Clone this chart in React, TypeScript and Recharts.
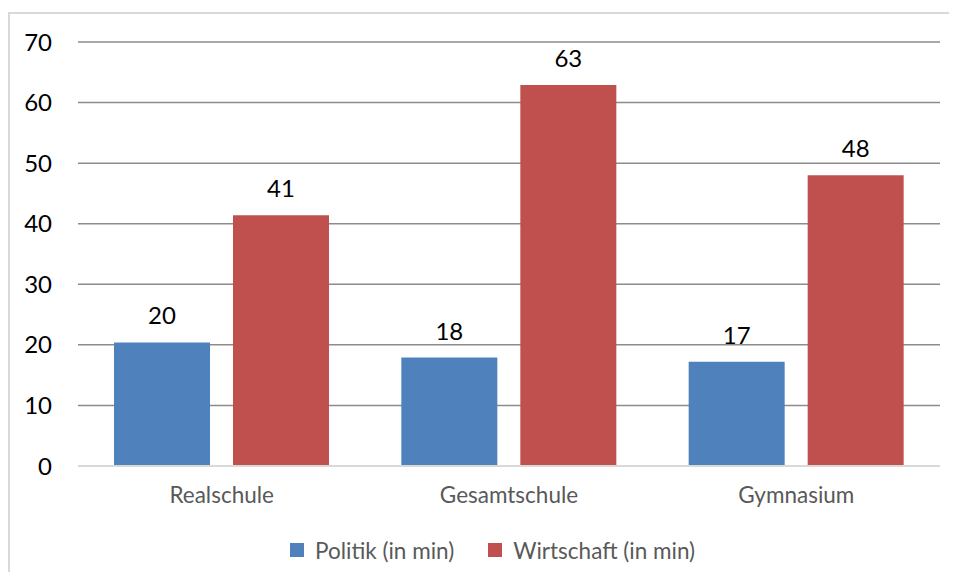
import { Bar, BarChart, CartesianGrid, LabelList, Legend, XAxis, YAxis } from "recharts"

const schools = ["Realschule", "Gesamtschule", "Gymnasium"]
const politik = [20.4, 17.9, 17.2]
const wirtschaft = [41.4, 62.9, 48.0]
const yTicks = [0, 10, 20, 30, 40, 50, 60, 70]

const seriesNames = ["Politik (in min)", "Wirtschaft (in min)"]
const seriesColors = ["#4F81BD", "#C0504D"]

const data = schools.map((name, i) => ({
  name,
  politik: politik[i],
  wirtschaft: wirtschaft[i],
}))

function LegendBox() {
  return (
    <div style={{ height: 30, display: "flex", alignItems: "center", paddingLeft: 280 }}>
      {seriesNames.map((label, i) => (
        <div key={label} style={{ display: "flex", alignItems: "center", marginRight: 34 }}>
          <span style={{ width: 14, height: 14, background: seriesColors[i], display: "inline-block", marginRight: 11 }} />
          <span style={{ fontSize: 22.5, color: "#595959" }}>{label}</span>
        </div>
      ))}
    </div>
  )
}

export default function App() {
  return (
    <div
      style={{
        marginTop: 4,
        width: 949,
        height: 560,
        boxSizing: "border-box",
        borderTop: "2px solid #d9d9d9",
        borderLeft: "2px solid #d9d9d9",
        fontFamily: "Lato",
        overflow: "hidden",
      }}
    >
      <BarChart
        width={940}
        height={558}
        data={data}
        margin={{ top: 28, right: 10, bottom: 7, left: 0 }}
        barCategoryGap={36}
        barGap={23}
      >
        <CartesianGrid vertical={false} stroke="#8c8c8c" strokeWidth={1.5} />
        <XAxis
          dataKey="name"
          height={69}
          tickLine={false}
          axisLine={{ stroke: "#d9d9d9", strokeWidth: 2 }}
          tickMargin={15}
          tick={{ fill: "#595959", fontSize: 22.5 }}
        />
        <YAxis
          width={68}
          domain={[0, 70]}
          ticks={yTicks}
          tickLine={false}
          axisLine={false}
          tickMargin={20}
          tick={{ fill: "#000000", fontSize: 24 }}
        />
        <Legend verticalAlign="bottom" content={() => <LegendBox />} />
        <Bar dataKey="politik" name={seriesNames[0]} fill={seriesColors[0]} isAnimationActive={false}>
          <LabelList dataKey="politik" position="top" offset={18} fill="#000000" fontSize={24} formatter={(v: number) => Math.round(v)} />
        </Bar>
        <Bar dataKey="wirtschaft" name={seriesNames[1]} fill={seriesColors[1]} isAnimationActive={false}>
          <LabelList dataKey="wirtschaft" position="top" offset={18} fill="#000000" fontSize={24} formatter={(v: number) => Math.round(v)} />
        </Bar>
      </BarChart>
    </div>
  )
}
